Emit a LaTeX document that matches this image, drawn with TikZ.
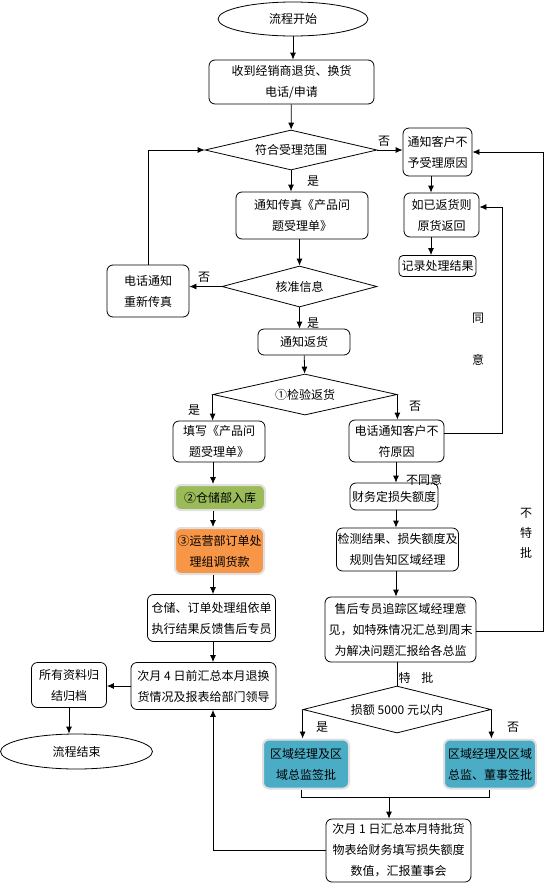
\documentclass[tikz,border=0pt]{standalone}
\usepackage{fontspec}
\setmainfont{Noto Sans CJK SC}
\usetikzlibrary{shapes.geometric, arrows.meta, positioning, calc}
\definecolor{stockgreen}{RGB}{155,187,89}
\definecolor{payorange}{RGB}{247,150,70}
\definecolor{apprteal}{RGB}{75,172,198}

\begin{document}
\begin{tikzpicture}[x=1pt, y=-1pt, >={Latex[length=7pt,width=6pt]}, line width=0.8pt,
  every node/.style={font=\fontsize{12}{21}\selectfont},
  proc/.style={draw, rounded corners=6pt, align=center, inner sep=0pt},
  tagged/.style={draw=black!12, line width=2pt, rounded corners=6pt, align=center, inner sep=0pt},
  decision/.style={draw, diamond, aspect=4, inner sep=0pt},
  terminal/.style={draw, ellipse, inner sep=0pt},
  lbl/.style={inner sep=1pt}]
  \useasboundingbox (0,0) rectangle (545,887);

  % main column
  \node[terminal, minimum width=150, minimum height=34] (start) at (293,19) {流程开始};
  \node[proc, minimum width=165, minimum height=44] (recv) at (291.5,82) {收到经销商退货、换货\\电话/申请};
  \node[decision, minimum width=172, minimum height=40] (scope) at (291,150) {符合受理范围};
  \node[proc, minimum width=132, minimum height=47] (fax) at (302,215.5) {通知传真《产品问\\题受理单》};
  \node[decision, minimum width=155, minimum height=41] (check) at (299.5,286.5) {核准信息};
  \node[proc, minimum width=82, minimum height=52] (refax) at (148,291) {电话通知\\重新传真};
  \node[proc, minimum width=92, minimum height=26] (notice) at (304,342) {通知返货};
  \node[decision, minimum width=184, minimum height=41] (inspect) at (305,394.5) {①检验返货};

  % refusal column
  \node[proc, minimum width=69, minimum height=48] (refuse) at (437.5,152) {通知客户不\\予受理原因};
  \node[proc, minimum width=75, minimum height=44] (goback) at (441.5,215) {如已返货则\\原货返回};
  \node[proc, minimum width=77, minimum height=21, rounded corners=4pt] (record) at (437.5,266) {记录处理结果};

  % left branch
  \node[proc, minimum width=92, minimum height=41] (form) at (219,441.5) {填写《产品问\\题受理单》};
  \node[tagged, fill=stockgreen, minimum width=90, minimum height=25] (stock) at (220,497.5) {②仓储部入库};
  \node[tagged, fill=payorange, minimum width=89, minimum height=46] (pay) at (219.5,551) {③运营部订单处\\理组调货款};
  \node[proc, minimum width=128, minimum height=47] (feedback) at (211.5,618) {仓储、订单处理组依单\\执行结果反馈售后专员};
  \node[proc, minimum width=145, minimum height=47] (summary) at (203.5,686) {次月 4 日前汇总本月退换\\货情况及报表给部门领导};
  \node[proc, minimum width=75, minimum height=45] (archive) at (69,685) {所有资料归\\结归档};
  \node[terminal, minimum width=152, minimum height=35] (finish) at (76.5,751.5) {流程结束};

  % right branch
  \node[proc, minimum width=95, minimum height=42] (call) at (396.5,441) {电话通知客户不\\符原因};
  \node[proc, minimum width=88, minimum height=27] (loss) at (394,496.5) {财务定损失额度};
  \node[proc, minimum width=122, minimum height=43] (inform) at (397.5,549.5) {检测结果、损失额度及\\规则告知区域经理};
  \node[proc, minimum width=151, minimum height=65] (track) at (400.5,629.5) {售后专员追踪区域经理意\\见，如特殊情况汇总到周末\\为解决问题汇报给各总监};
  \node[decision, minimum width=188, minimum height=47] (amount) at (397,709.5) {损额 5000 元以内};
  \node[tagged, fill=apprteal, minimum width=86, minimum height=49] (apprA) at (306,764) {区域经理及区\\域总监签批};
  \node[tagged, fill=apprteal, minimum width=92, minimum height=49] (apprB) at (490,764) {区域经理及区域\\总监、董事签批};
  \node[proc, minimum width=145, minimum height=63] (monthly) at (398.5,850.5) {次月 1 日汇总本月特批货\\物表给财务填写损失额度\\数值，汇报董事会};

  \coordinate (colL) at (213,0);
  \coordinate (colQ) at (431,0);
  \coordinate (colR) at (396,0);
  \coordinate (merge) at (389,797);

  % labels
  \node[lbl] (no1) at (384,141) {否};
  \node[lbl] (yes1) at (313,181) {是};
  \node[lbl] (no2) at (204,277) {否};
  \node[lbl] (yes2) at (313,323) {是};
  \node[lbl] (yes3) at (194,410) {是};
  \node[lbl] (no3) at (415,406) {否};
  \node[lbl] (agree1) at (478,318) {同};
  \node[lbl] (agree2) at (478,360) {意};
  \node[lbl] (disagree) at (424,480) {不同意};
  \node[lbl] (nospec1) at (526,513) {不};
  \node[lbl] (nospec2) at (526,533) {特};
  \node[lbl] (nospec3) at (526,553) {批};
  \node[lbl] (special) at (416,678) {特\hspace{0.9em}批};
  \node[lbl] (yes4) at (322,727) {是};
  \node[lbl] (no4) at (513,727) {否};

  % connectors
  \draw[->] (start.south) -- (start.south |- recv.north);
  \draw[->] (recv) -- (scope);
  \draw[->] (scope.east) -- (scope.east -| refuse.west);
  \draw[->] (refuse.south -| colQ) -- (goback.north -| colQ);
  \draw[->] (goback.south -| colQ) -- (record.north -| colQ);
  \draw[->] (scope.south) -- (scope.south |- fax.north);
  \draw[->] (fax.south -| check.north) -- (check.north);
  \draw[->] (check.west) -- (check.west -| refax.east);
  \draw[->] (refax.north) |- (scope.west);
  \draw[->] (check.south) -- (check.south |- notice.north);
  \draw[->] (notice) -- (inspect);
  \draw[->] (inspect.west) -- (inspect.west |- form.north);
  \draw[->] (inspect.east) -- (inspect.east |- call.north);
  \draw[->] ([yshift=8pt]call.east) -- ++(58,0) |- ([yshift=8pt]goback.east);

  \draw[->] (form.south -| colL) -- (stock.north -| colL);
  \draw[->] (stock.south -| colL) -- (pay.north -| colL);
  \draw[->] (pay.south -| colL) -- (feedback.north -| colL);
  \draw[->] (feedback.south -| colL) -- (summary.north -| colL);
  \draw[->] (summary.west) -- (summary.west -| archive.east);
  \draw[->] (archive.south) -- (archive.south |- finish.north);

  \draw[->] (call.south -| colR) -- (loss.north -| colR);
  \draw[->] (loss.south -| colR) -- (inform.north -| colR);
  \draw[->] (inform.south -| colR) -- (track.north -| colR);
  \draw[->] ([yshift=-2pt]track.east) -- ++(67,0) |- (refuse.east);
  \draw (track.south -| amount.north) -- (amount.north);
  \draw[->] (amount.west) -- (amount.west |- apprA.north);
  \draw[->] (amount.east) -- (amount.east |- apprB.north);
  \draw ([xshift=-5pt]apprA.south) |- (merge) -| ([xshift=-1pt]apprB.south);
  \draw[->] (merge) -- (merge |- monthly.north);
  \draw[->] (monthly.west) -| (summary.south -| colL);
\end{tikzpicture}
\end{document}
